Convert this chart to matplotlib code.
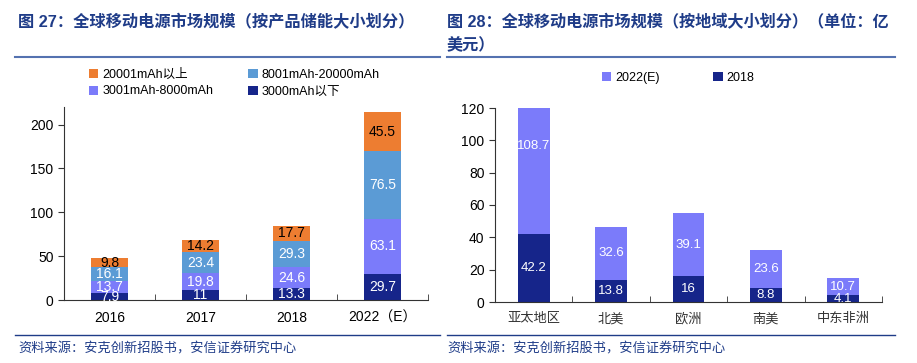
import matplotlib
matplotlib.use('Agg')
import matplotlib.pyplot as plt
import numpy as np
from matplotlib.lines import Line2D

plt.rcParams['font.family'] = ['Liberation Sans', 'Noto Sans CJK SC']

# 图27 数据（按产品储能大小划分）
anios = ['2016', '2017', '2018', '2022（E）']
cap_3000 = [7.9, 11, 13.3, 29.7]
cap_3001_8000 = [13.7, 19.8, 24.6, 63.1]
cap_8001_20000 = [16.1, 23.4, 29.3, 76.5]
cap_20001 = [9.8, 14.2, 17.7, 45.5]

# 图28 数据（按地域划分）
regiones = ['亚太地区', '北美', '欧洲', '南美', '中东非洲']
valor_2018 = [42.2, 13.8, 16, 8.8, 4.1]
valor_2022 = [108.7, 32.6, 39.1, 23.6, 10.7]

NARANJA = '#ED7D31'
AZUL_CLARO = '#5B9BD5'
MORADO = '#7B7BFA'
AZUL_OSCURO = '#16258A'
AZUL_TITULO = '#1F3C88'

W, H = 917, 363
fig = plt.figure(figsize=(W / 100, H / 100), dpi=100)


def fx(px):
    return px / W


def fy(py):
    return 1 - py / H


def estilo_ejes(ax, n):
    ax.spines['top'].set_visible(False)
    ax.spines['right'].set_visible(False)
    ax.spines['left'].set_color('#333333')
    ax.spines['bottom'].set_color('#333333')
    ax.set_xlim(-0.5, n - 0.5)
    ax.set_xticks(np.arange(n))
    ax.tick_params(axis='x', length=0, pad=8, labelsize=10)
    ax.set_xticks(np.arange(n) + 0.5, minor=True)
    ax.tick_params(axis='x', which='minor', direction='in', length=4, color='#333333')
    ax.tick_params(axis='y', direction='out', length=4, labelsize=10, color='#333333')
    ax.set_facecolor('white')


# ---------------- 左图 ----------------
ax1 = fig.add_axes([fx(64), fy(300), fx(428) - fx(64), fy(107) - fy(300)])
x = np.arange(len(anios))
ancho = 0.41
series = [cap_3000, cap_3001_8000, cap_8001_20000, cap_20001]
colores = [AZUL_OSCURO, MORADO, AZUL_CLARO, NARANJA]
nombres = ['3000mAh以下', '3001mAh-8000mAh', '8001mAh-20000mAh', '20001mAh以上']
base = np.zeros(len(anios))
barras = []
for vals, col, nom in zip(series, colores, nombres):
    b = ax1.bar(x, vals, ancho, bottom=base, color=col, label=nom)
    barras.append(b)
    for xi, v, b0 in zip(x, vals, base):
        ax1.text(xi, b0 + v / 2, f'{v:g}', ha='center', va='center', fontsize=10,
                 color='black' if col == NARANJA else 'white')
    base = base + np.array(vals)

ax1.set_ylim(0, 220)
ax1.set_yticks([0, 50, 100, 150, 200])
estilo_ejes(ax1, len(anios))
ax1.set_xticklabels(anios)

fig.legend([barras[3], barras[1], barras[2], barras[0]],
           [nombres[3], nombres[1], nombres[2], nombres[0]],
           ncol=2, loc='upper left', bbox_to_anchor=(fx(84), fy(64)),
           frameon=False, fontsize=9, handlelength=0.75, handleheight=0.75,
           handletextpad=0.3, columnspacing=2.8, labelspacing=0.35, borderaxespad=0)

# ---------------- 右图 ----------------
ax2 = fig.add_axes([fx(495), fy(302), fx(882) - fx(495), fy(108) - fy(302)])
x2 = np.arange(len(regiones))
b18 = ax2.bar(x2, valor_2018, ancho, color=AZUL_OSCURO, label='2018')
b22 = ax2.bar(x2, valor_2022, ancho, bottom=valor_2018, color=MORADO, label='2022(E)')
for xi, v18, v22 in zip(x2, valor_2018, valor_2022):
    ax2.text(xi, v18 / 2, f'{v18:g}', ha='center', va='center', fontsize=9.5, color='white')
    ax2.text(xi, v18 + v22 / 2, f'{v22:g}', ha='center', va='center', fontsize=9.5, color='white')
ax2.set_ylim(0, 120)
ax2.set_yticks(np.arange(0, 121, 20))
estilo_ejes(ax2, len(regiones))
ax2.set_xticklabels(regiones, color='#333333', fontsize=9.5)

fig.legend([b22, b18], ['2022(E)', '2018'], ncol=2, loc='upper left',
           bbox_to_anchor=(fx(597), fy(67)), frameon=False, fontsize=9,
           handlelength=0.75, handleheight=0.75, handletextpad=0.3,
           columnspacing=4.3, borderaxespad=0)

# ---------------- 标题、分隔线、来源 ----------------
fuente_cjk = ['Liberation Sans', 'Noto Sans CJK SC']
fig.text(fx(18), fy(22), '图 27：全球移动电源市场规模（按产品储能大小划分）',
         fontsize=11.7, fontweight='bold', color=AZUL_TITULO, va='center', family=fuente_cjk)
fig.text(fx(447), fy(22), '图 28：全球移动电源市场规模（按地域大小划分）（单位：亿',
         fontsize=11.65, fontweight='bold', color=AZUL_TITULO, va='center', family=fuente_cjk)
fig.text(fx(447), fy(45), '美元）',
         fontsize=11.65, fontweight='bold', color=AZUL_TITULO, va='center', family=fuente_cjk)

for (a, b) in [(15, 440), (447, 895)]:
    fig.add_artist(Line2D([fx(a), fx(b)], [fy(57), fy(57)], color='#5472B0', lw=1.5))
    fig.add_artist(Line2D([fx(a), fx(b)], [fy(335), fy(335)], color=AZUL_TITULO, lw=1.0))

fuente = '资料来源：安克创新招股书，安信证券研究中心'
fig.text(fx(18), fy(349), fuente, fontsize=9.5, color=AZUL_TITULO, va='center', style='italic')
fig.text(fx(447), fy(349), fuente, fontsize=9.5, color=AZUL_TITULO, va='center', style='italic')

plt.savefig('out.png', dpi=100)
plt.close()
